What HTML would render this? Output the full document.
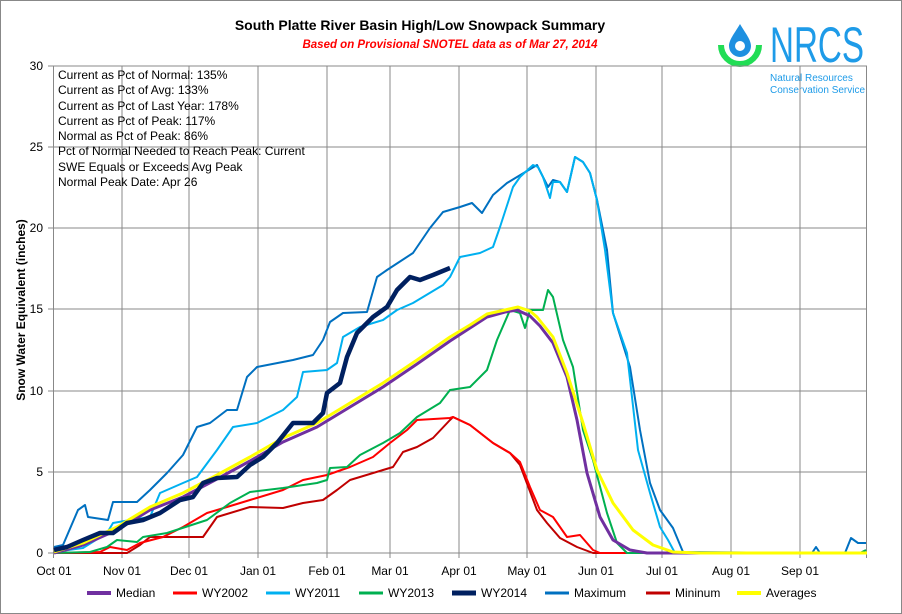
<!DOCTYPE html>
<html><head><meta charset="utf-8"><style>
body{margin:0;background:#fff}
svg{display:block;font-family:"Liberation Sans",Arial,sans-serif}
</style></head><body>
<svg width="902" height="614" viewBox="0 0 902 614" xmlns="http://www.w3.org/2000/svg">
<rect x="0.5" y="0.5" width="901" height="613" fill="#fff" stroke="#888"/>
<text x="420" y="30" font-size="14" font-weight="bold" text-anchor="middle">South Platte River Basin High/Low Snowpack Summary</text>
<text x="450" y="48" font-size="11.5" font-weight="bold" font-style="italic" fill="#ff0000" text-anchor="middle">Based on Provisional SNOTEL data as of Mar 27, 2014</text>
<!-- logo -->
<path d="M740 24 C734 34 729 40 729 46 A11 11 0 0 0 751 46 C751 40 746 34 740 24 Z" fill="#1e90e0"/>
<circle cx="740" cy="46" r="5" fill="#fff"/>
<path d="M721 45 A19 19 0 0 0 759 45" fill="none" stroke="#22dd55" stroke-width="6"/>
<text x="770" y="62" font-size="50" fill="#1e9be8" textLength="94" lengthAdjust="spacingAndGlyphs">NRCS</text>
<text x="770" y="81" font-size="10" fill="#1e9be8">Natural Resources</text>
<text x="770" y="93" font-size="10" fill="#1e9be8">Conservation Service</text>
<!-- grid -->
<g stroke="#888" stroke-width="1">
<line x1="53" y1="66" x2="867" y2="66"/><line x1="53" y1="147" x2="867" y2="147"/><line x1="53" y1="228" x2="867" y2="228"/><line x1="53" y1="309" x2="867" y2="309"/><line x1="53" y1="391" x2="867" y2="391"/><line x1="53" y1="472" x2="867" y2="472"/><line x1="48" y1="553" x2="867" y2="553"/>
<line x1="53.5" y1="66" x2="53.5" y2="558"/><line x1="122" y1="66" x2="122" y2="558"/><line x1="189" y1="66" x2="189" y2="558"/><line x1="258" y1="66" x2="258" y2="558"/><line x1="327" y1="66" x2="327" y2="558"/><line x1="390" y1="66" x2="390" y2="558"/><line x1="459" y1="66" x2="459" y2="558"/><line x1="527" y1="66" x2="527" y2="558"/><line x1="596" y1="66" x2="596" y2="558"/><line x1="662" y1="66" x2="662" y2="558"/><line x1="731" y1="66" x2="731" y2="558"/><line x1="800" y1="66" x2="800" y2="558"/><line x1="866.5" y1="66" x2="866.5" y2="558"/>
<line x1="48" y1="66" x2="53" y2="66"/><line x1="48" y1="147" x2="53" y2="147"/><line x1="48" y1="228" x2="53" y2="228"/><line x1="48" y1="309" x2="53" y2="309"/><line x1="48" y1="391" x2="53" y2="391"/><line x1="48" y1="472" x2="53" y2="472"/>
</g>
<g font-size="12" text-anchor="end"><text x="43" y="70">30</text><text x="43" y="151">25</text><text x="43" y="232">20</text><text x="43" y="313">15</text><text x="43" y="395">10</text><text x="43" y="476">5</text><text x="43" y="557">0</text></g>
<g font-size="12" text-anchor="middle"><text x="54" y="575">Oct 01</text><text x="122" y="575">Nov 01</text><text x="189" y="575">Dec 01</text><text x="258" y="575">Jan 01</text><text x="327" y="575">Feb 01</text><text x="390" y="575">Mar 01</text><text x="459" y="575">Apr 01</text><text x="527" y="575">May 01</text><text x="596" y="575">Jun 01</text><text x="662" y="575">Jul 01</text><text x="731" y="575">Aug 01</text><text x="800" y="575">Sep 01</text></g>
<text transform="translate(25,310) rotate(-90)" font-size="12" font-weight="bold" text-anchor="middle">Snow Water Equivalent (inches)</text>
<g font-size="12"><text x="58" y="79">Current  as Pct of Normal:  135%</text><text x="58" y="94">Current  as Pct of Avg:  133%</text><text x="58" y="110">Current  as Pct of Last Year:  178%</text><text x="58" y="125">Current  as Pct of Peak:  117%</text><text x="58" y="140">Normal  as Pct of Peak:  86%</text><text x="58" y="155">Pct of Normal Needed  to Reach Peak:  Current</text><text x="58" y="171">SWE Equals  or Exceeds  Avg  Peak</text><text x="58" y="186">Normal  Peak Date:  Apr 26</text></g>
<g fill="none" stroke-linejoin="round">
<polyline stroke="#c00000" stroke-width="2" points="54,553 127,553 140,545 150,537 203,537 217,517 250,507 283,508 303,503 323,500 337,490 350,480 383,470 393,467 403,452 417,447 433,438 450,420 453,417 470,425 493,443 510,453 520,465 537,510 547,523 560,538 577,547 593,553 867,553"/>
<polyline stroke="#ff0000" stroke-width="2" points="54,553 100,552 110,547 127,550 140,543 163,537 183,527 207,513 227,507 250,500 283,490 303,480 327,475 350,467 373,457 390,443 407,430 417,420 450,418 453,417 470,425 493,443 510,453 520,462 530,487 540,510 553,517 567,537 580,535 593,550 600,553 867,553"/>
<polyline stroke="#00b050" stroke-width="2" points="54,553 90,552 107,547 117,540 137,542 143,537 167,533 207,520 230,503 250,492 283,488 317,483 327,480 330,468 347,467 360,455 383,443 400,433 417,417 440,403 450,390 470,387 487,370 497,340 510,310 520,313 525,328 530,310 543,310 548,290 553,297 563,340 573,367 583,430 593,460 607,513 617,543 627,553 860,553 866,550"/>
<polyline stroke="#0070c0" stroke-width="2" points="54,547 63,545 78,510 85,505 88,517 108,520 113,502 137,502 150,490 167,473 183,455 197,427 210,423 227,410 237,410 247,377 257,367 293,360 313,355 323,340 330,322 343,313 367,312 377,277 387,270 413,253 430,228 443,212 460,207 472,203 482,213 493,195 507,183 517,177 537,165 548,187 553,180 560,182 567,192 575,157 583,162 590,173 597,200 607,250 613,313 630,367 640,430 650,483 660,510 673,528 683,552 812,553 816,547 820,553 845,553 851,538 858,543 866,543"/>
<polyline stroke="#00b0f0" stroke-width="2" points="54,552 83,548 107,533 113,523 130,520 150,517 160,493 183,483 197,477 217,450 233,427 257,423 283,410 297,397 303,372 327,370 337,363 343,337 360,327 383,320 397,310 413,303 443,285 450,277 460,257 480,253 493,247 500,227 513,187 520,177 533,165 538,167 543,177 550,198 553,182 560,182 567,192 575,157 583,162 590,173 597,200 605,250 613,313 627,353 638,450 650,493 660,527 668,540 675,553"/>
<polyline stroke="#7030a0" stroke-width="3" points="54,553 83,545 117,530 150,510 183,497 217,479 250,461 283,442 317,427 350,407 383,387 417,364 450,341 470,328 487,317 505,312 517,310 530,316 540,326 553,343 567,377 577,420 587,473 600,517 613,540 630,550 647,553 700,553"/>
<polyline stroke="#ffff00" stroke-width="3" points="54,552 83,543 117,527 150,507 183,493 217,475 250,457 283,438 317,423 350,403 383,383 417,360 450,337 470,325 487,314 505,310 518,307 530,311 537,317 553,337 567,373 583,423 597,470 613,503 633,530 653,545 673,552 700,553 867,553"/>
<polyline stroke="#002060" stroke-width="4.5" points="54,550 67,547 83,540 100,533 113,533 127,523 143,520 160,513 180,500 193,497 203,483 217,478 237,477 250,465 263,457 277,443 293,423 313,423 323,413 327,393 340,383 347,357 357,333 373,317 387,307 397,290 410,277 420,280 433,275 450,268"/>
</g>
<g font-size="12">
<line x1="87" y1="593" x2="111" y2="593" stroke="#7030a0" stroke-width="4"/><text x="116" y="597">Median</text>
<line x1="173" y1="593" x2="197" y2="593" stroke="#ff0000" stroke-width="3"/><text x="202" y="597">WY2002</text>
<line x1="266" y1="593" x2="290" y2="593" stroke="#00b0f0" stroke-width="3"/><text x="295" y="597">WY2011</text>
<line x1="359" y1="593" x2="383" y2="593" stroke="#00b050" stroke-width="3"/><text x="388" y="597">WY2013</text>
<line x1="452" y1="593" x2="476" y2="593" stroke="#002060" stroke-width="5"/><text x="481" y="597">WY2014</text>
<line x1="545" y1="593" x2="569" y2="593" stroke="#0070c0" stroke-width="3"/><text x="574" y="597">Maximum</text>
<line x1="646" y1="593" x2="670" y2="593" stroke="#c00000" stroke-width="3"/><text x="675" y="597">Mininum</text>
<line x1="737" y1="593" x2="761" y2="593" stroke="#ffff00" stroke-width="4"/><text x="766" y="597">Averages</text>
</g>
</svg>
</body></html>
